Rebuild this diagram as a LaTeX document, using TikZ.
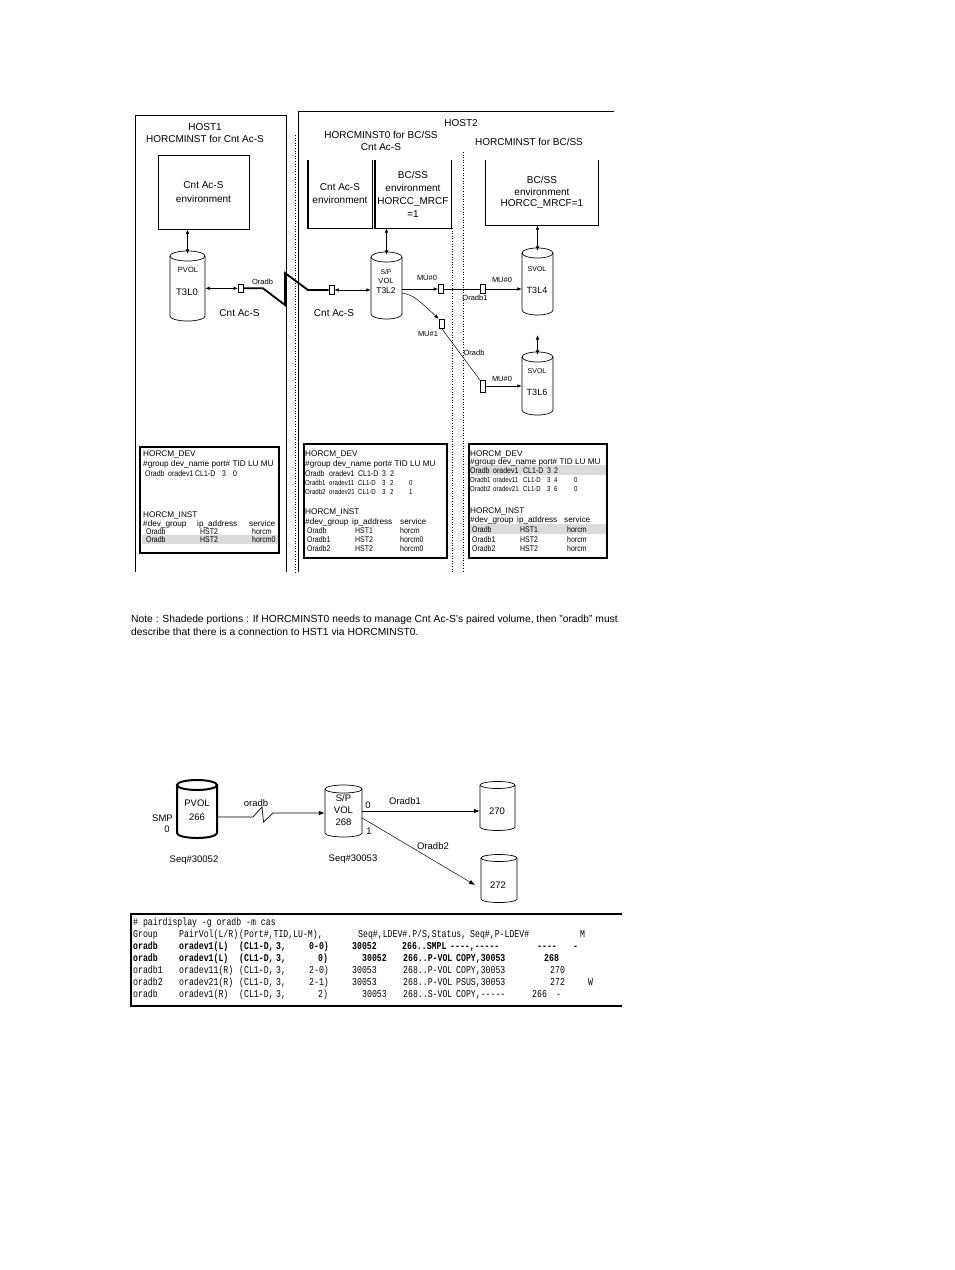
\documentclass[tikz,border=0pt]{standalone}
\usepackage{fontspec}
\setmainfont{Liberation Sans}
\newfontfamily\monof[FakeStretch=0.78]{Liberation Mono}
\newfontfamily\condf[FakeStretch=0.85]{Liberation Sans}
\usetikzlibrary{arrows.meta}
\newcommand\drum[7][]{%
  \draw[#1] (#3,#4) ellipse [x radius=#6pt, y radius=#7pt];
  \draw[#1] ({#3-#6},#4) -- ({#3-#6},#5) arc[start angle=180, end angle=360, x radius=#6pt, y radius=#7pt] -- ({#3+#6},#4);
  \node[minimum width={2*#6pt}, minimum height={#5-#4}] (#2) at (#3,{(#4+#5)/2}) {};
}
\newcommand\tcell[4][tab]{\node[#1] (#2) at (#3) {#4};}
\begin{document}
\begin{tikzpicture}[x=1pt,y=-1pt,
 every node/.style={inner sep=0pt},
 >={Latex[length=4.5pt,width=3.6pt]},
 big/.style={font=\fontsize{10}{12}\selectfont},
 sml/.style={font=\fontsize{7.5}{9}\selectfont},
 tabh/.style={anchor=base west,font=\fontsize{8.2}{9}\selectfont},
 tab/.style={anchor=base west,font=\condf\fontsize{8.2}{9}\selectfont},
 tabs/.style={anchor=base west,font=\condf\fontsize{7.2}{9}\selectfont},
 mono/.style={anchor=base west,font=\monof\fontsize{10.5}{12}\selectfont},
 monob/.style={anchor=base west,font=\monof\bfseries\fontsize{10.5}{12}\selectfont},
 low/.style={font=\fontsize{9.5}{11}\selectfont},
 note/.style={anchor=base west,font=\fontsize{10.3}{12}\selectfont},
 host/.style={line width=0.9pt},
 dotl/.style={line width=0.6pt, dotted},
 envl/.style={line width=0.8pt},
 cyl/.style={line width=0.7pt},
 conn/.style={line width=0.7pt},
 thk/.style={line width=1.8pt},
 tabbox/.style={line width=1.4pt},
 shade/.style={fill=black!14},
 sq/.style={draw, line width=0.6pt, fill=white, minimum width=5pt, minimum height=9pt},
 arrow2/.style={-{Latex[length=6pt,width=4.5pt]}, line width=0.7pt},
]
\fill[white] (0,0) rectangle (954,1270);
\useasboundingbox (0,0) rectangle (954,1270);

% ---------- host frames ----------
\draw[host] (135,572) -- (135,115) -- (286,115) -- (286,572);
\draw[host] (298,572) -- (298,111) -- (614,111);
\draw[dotl] (295,135) -- (295,572);
\draw[dotl] (452,228) -- (452,572);
\draw[dotl] (463,152) -- (463,572);

\node[big] (h1) at (205,127) {HOST1};
\node[big] (h1b) at (205,139) {HORCMINST for Cnt Ac-S};
\node[big] (h2) at (461,123) {HOST2};
\node[big] (h2a) at (381,135) {HORCMINST0 for BC/SS};
\node[big] (h2b) at (381,147) {Cnt Ac-S};
\node[big] (h2c) at (529,142) {HORCMINST for BC/SS};

% ---------- environment boxes ----------
\node[draw, envl, big, align=center, minimum width=91pt, minimum height=74pt, font=\fontsize{10}{14}\selectfont] (e1) at (203.5,192) {Cnt Ac-S\\environment};
\node[big, align=center, minimum width=64pt, minimum height=68pt, font=\fontsize{10}{13}\selectfont] (e2) at (340,194) {Cnt Ac-S\\environment};
\draw[envl] (e2.north west) -- (e2.south west) -- (e2.south east) -- (e2.north east);
\draw[line width=1.8pt] (e2.north west) -- (e2.south west);
\node[big, align=center, minimum width=76pt, minimum height=68pt, font=\fontsize{10}{13}\selectfont] (e3) at (413,194) {BC/SS\\environment\\HORCC\_MRCF\\=1};
\draw[envl] (e3.north west) -- (e3.south west) -- (e3.south east) -- (e3.north east);
\draw[line width=1.6pt] (e3.north west) -- (e3.south west);
\node[big, align=center, minimum width=112pt, minimum height=65pt, font=\fontsize{10}{11.8}\selectfont] (e4) at (542,192.5) {BC/SS\\environment\\HORCC\_MRCF=1};
\draw[envl] (e4.north west) -- (e4.south west) -- (e4.south east) -- (e4.north east);

% ---------- cylinders (top) ----------
\drum[cyl]{pvol}{187.5}{256}{316}{17.5}{5}
\drum[cyl]{spvol}{386.5}{257}{314}{15.5}{5}
\drum[cyl]{svola}{537.5}{253}{310}{15.5}{5}
\drum[cyl]{svolb}{537.5}{357}{410}{15.5}{5}

\node[sml] (pvolt) at (188,270) {PVOL};
\node[font=\fontsize{9.5}{11}\selectfont] (pvoln) at (187,292) {T3L0};
\node[font=\fontsize{6.8}{8}\selectfont] (spt1) at (386,272) {S/P};
\node[font=\fontsize{7.5}{9}\selectfont] (spt2) at (386,281) {VOL};
\node[font=\fontsize{8.5}{10}\selectfont] (spt3) at (386,291) {T3L2};
\node[font=\fontsize{7}{8}\selectfont] (sat1) at (537,269) {SVOL};
\node[font=\fontsize{9}{10}\selectfont] (sat2) at (537,290) {T3L4};
\node[font=\fontsize{7}{8}\selectfont] (sbt1) at (537,371) {SVOL};
\node[font=\fontsize{9}{10}\selectfont] (sbt2) at (537,392) {T3L6};

% vertical double arrows
\draw[<->, conn] (pvol.north |- e1.south) -- ([yshift=2pt]pvol.north);
\draw[<->, conn] (spvol.north |- e3.south) -- ([yshift=2pt]spvol.north);
\draw[<->, conn] (svola.north |- e4.south) -- ([yshift=2pt]svola.north);
\coordinate (svup) at (537.5,335);
\draw[<->, conn] (svup) -- ([yshift=2pt]svolb.north);

% ---------- small link boxes ----------
\node[sq, minimum height=8pt] (r1) at (240.8,288.3) {};
\node[sq] (r2) at (331.5,290) {};
\node[sq] (r3) at (441,289) {};
\node[sq] (r4) at (482.5,289) {};
\node[sq] (r5) at (441.5,323.5) {};
\node[sq, minimum height=12pt] (r6) at (482.5,386) {};

% connectors
\draw[<->, conn] (pvol.east |- r1.west) -- (r1.west);
\draw[thk] (r1.east) -- (263,288.3) -- (285,305) -- (285,273) -- (308,290) -- (r2.west);
\draw[<->, conn] (r2.east) -- (spvol.west |- r2.east);
\draw[->, conn] (spvol.east |- r3.west) -- (r3.west);
\draw[conn] (r3.east) -- (r4.west);
\draw[->, conn] (r4.east) -- (svola.west |- r4.east);
\draw[->, line width=0.5pt] (spvol.east |- 0,293) .. controls (414,296) .. (r5.north west);
\draw[line width=0.5pt] (r5.south) -- (r6.north west);
\draw[->, conn] (r6.east) -- (svolb.west |- r6.east);

\node[sml] (lo1) at (262.5,281.5) {Oradb};
\node[big] (lc1) at (239.5,313) {Cnt Ac-S};
\node[big] (lc2) at (334,313) {Cnt Ac-S};
\node[sml] (lm0) at (427,278) {MU\#0};
\node[sml] (lo2) at (475,298) {Oradb1};
\node[sml] (lm1) at (502,280) {MU\#0};
\node[sml] (lm2) at (428,334) {MU\#1};
\node[sml] (lo3) at (474,353) {Oradb};
\node[sml] (lm3) at (502,379) {MU\#0};

% ---------- left table ----------
\fill[shade] (142,535) rectangle (278,544);
\draw[tabbox] (140,447) rectangle (279,553);
\tcell[tabh]{la1}{143,456}{HORCM\_DEV}
\tcell[tabh]{la2}{143,466}{\#group dev\_name port\# TID LU MU}
\tcell{la3}{145,476}{Oradb}
\tcell{la4}{168,476}{oradev1}
\tcell{la5}{195,476}{CL1-D}
\tcell{la6}{222,476}{3}
\tcell{la7}{233,476}{0}
\tcell[tabh]{la8}{143,517}{HORCM\_INST}
\tcell[tabh]{la9}{143,526}{\#dev\_group}
\tcell[tabh]{la10}{197,526}{ip\_address}
\tcell[tabh]{la11}{249,526}{service}
\tcell{la12}{146,534}{Oradb}
\tcell{la13}{200,534}{HST2}
\tcell{la14}{252,534}{horcm}
\tcell{la15}{146,542}{Oradb}
\tcell{la16}{200,542}{HST2}
\tcell{la17}{252,542}{horcm0}

% ---------- middle table ----------
\draw[tabbox] (304,444) rectangle (447,558);
\tcell[tabh]{ma1}{305,456}{HORCM\_DEV}
\tcell[tabh]{ma2}{305,466}{\#group dev\_name port\# TID LU MU}
\tcell{ma3}{305,476}{Oradb}
\tcell{ma4}{329,476}{oradev1}
\tcell{ma5}{358,476}{CL1-D}
\tcell{ma6}{382,476}{3}
\tcell{ma7}{390,476}{2}
\tcell[tabs]{mb1}{305,485}{Oradb1}
\tcell[tabs]{mb2}{329,485}{oradev11}
\tcell[tabs]{mb3}{358,485}{CL1-D}
\tcell[tabs]{mb4}{382,485}{3}
\tcell[tabs]{mb5}{390,485}{2}
\tcell[tabs]{mb6}{409,485}{0}
\tcell[tabs]{mc1}{305,494}{Oradb2}
\tcell[tabs]{mc2}{329,494}{oradev21}
\tcell[tabs]{mc3}{358,494}{CL1-D}
\tcell[tabs]{mc4}{382,494}{3}
\tcell[tabs]{mc5}{390,494}{2}
\tcell[tabs]{mc6}{409,494}{1}
\tcell[tabh]{ma8}{305,514}{HORCM\_INST}
\tcell[tabh]{ma9}{305,524}{\#dev\_group}
\tcell[tabh]{ma10}{352,524}{ip\_address}
\tcell[tabh]{ma11}{400,524}{service}
\tcell{md1}{307,533}{Oradb}
\tcell{md2}{355,533}{HST1}
\tcell{md3}{400,533}{horcm}
\tcell{me1}{307,542}{Oradb1}
\tcell{me2}{355,542}{HST2}
\tcell{me3}{400,542}{horcm0}
\tcell{mf1}{307,551}{Oradb2}
\tcell{mf2}{355,551}{HST2}
\tcell{mf3}{400,551}{horcm0}

% ---------- right table ----------
\fill[shade] (470,465) rectangle (606,475);
\fill[shade] (470,524) rectangle (606,534);
\draw[tabbox] (469,444) rectangle (607,558);
\tcell[tabh]{ra1}{470,456}{HORCM\_DEV}
\tcell[tabh]{ra2}{470,464}{\#group dev\_name port\# TID LU MU}
\tcell{ra3}{470,473}{Oradb}
\tcell{ra4}{493,473}{oradev1}
\tcell{ra5}{523,473}{CL1-D}
\tcell{ra6}{547,473}{3}
\tcell{ra7}{554,473}{2}
\tcell[tabs]{rb1}{470,482}{Oradb1}
\tcell[tabs]{rb2}{493,482}{oradev11}
\tcell[tabs]{rb3}{523,482}{CL1-D}
\tcell[tabs]{rb4}{547,482}{3}
\tcell[tabs]{rb5}{554,482}{4}
\tcell[tabs]{rb6}{574,482}{0}
\tcell[tabs]{rc1}{470,491}{Oradb2}
\tcell[tabs]{rc2}{493,491}{oradev21}
\tcell[tabs]{rc3}{523,491}{CL1-D}
\tcell[tabs]{rc4}{547,491}{3}
\tcell[tabs]{rc5}{554,491}{6}
\tcell[tabs]{rc6}{574,491}{0}
\tcell[tabh]{ra8}{470,513}{HORCM\_INST}
\tcell[tabh]{ra9}{470,522}{\#dev\_group}
\tcell[tabh]{ra10}{517,522}{ip\_address}
\tcell[tabh]{ra11}{564,522}{service}
\tcell{rd1}{472,532}{Oradb}
\tcell{rd2}{520,532}{HST1}
\tcell{rd3}{567,532}{horcm}
\tcell{re1}{472,542}{Oradb1}
\tcell{re2}{520,542}{HST2}
\tcell{re3}{567,542}{horcm}
\tcell{rf1}{472,551}{Oradb2}
\tcell{rf2}{520,551}{HST2}
\tcell{rf3}{567,551}{horcm}

% ---------- note ----------
\node[note] (note1) at (131,622.5) {Note : Shadede portions : If HORCMINST0 needs to manage Cnt Ac-S's paired volume, then "oradb" must};
\node[note] (note2) at (131,635.5) {describe that there is a connection to HST1 via HORCMINST0.};

% ---------- lower diagram ----------
\node[low] (smp) at (162.5,818) {SMP};
\node[low] (smp0) at (167,829) {0};
\drum[line width=2pt]{pvolb}{197}{785}{833}{20}{5}
\node[low] (pvb1) at (197,803) {PVOL};
\node[low] (pvb2) at (197,817) {266};
\drum[line width=0.7pt]{spvolb}{343.5}{789}{833}{18.5}{4}
\node[low] (spb1) at (343.5,798) {S/P};
\node[low] (spb2) at (343.5,810) {VOL};
\node[low] (spb3) at (343.5,822) {268};
\drum[line width=0.7pt]{cyla}{497.5}{785}{827}{17.5}{3.5}
\node[low] (cya) at (497,811) {270};
\drum[line width=0.7pt]{cylb}{499}{858}{899}{18}{3.5}
\node[low] (cyb) at (498,885) {272};

\draw[arrow2] (pvolb.east |- 0,817) -- (253,817) -- (262,807) -- (263.5,822) -- (273,813) -- (spvolb.west |- 0,813);
\draw[arrow2] (spvolb.east |- 0,811) -- (cyla.west |- 0,811);
\coordinate (tip272) at (475,885);
\draw[arrow2, line width=0.5pt] (spvolb.east |- 0,818) -- (tip272);

\node[low] (lb1) at (256,803) {oradb};
\node[low] (lb2) at (368,805) {0};
\node[low] (lb3) at (369,831) {1};
\node[low] (lb4) at (405,801) {Oradb1};
\node[low] (lb5) at (433,846) {Oradb2};
\node[low] (sq1) at (194,860) {Seq\#30052};
\node[low] (sq2) at (353,859) {Seq\#30053};

% ---------- pairdisplay output ----------
\draw[line width=1.1pt] (622,914) -- (131,914) -- (131,1006) -- (622,1006);
\tcell[mono]{p0}{133,925}{\# pairdisplay -g oradb -m cas}
\tcell[mono]{p1a}{133,937}{Group}
\tcell[mono]{p1b}{179,937}{PairVol(L/R)}
\tcell[mono]{p1c}{239,937}{(Port\#,TID,LU-M),}
\tcell[mono]{p1d}{358,937}{Seq\#,LDEV\#.P/S,Status,}
\tcell[mono]{p1e}{470,937}{Seq\#,P-LDEV\#}
\tcell[mono]{p1f}{580,937}{M}
% row 2 (bold)
\tcell[monob]{p2a}{133,949}{oradb}
\tcell[monob]{p2b}{179,949}{oradev1(L)}
\tcell[monob]{p2c}{239,949}{(CL1-D,}
\tcell[monob]{p2d}{276,949}{3,}
\tcell[monob]{p2e}{309,949}{0-0)}
\tcell[monob]{p2f}{352,949}{30052}
\tcell[monob]{p2g}{402,949}{266..SMPL}
\tcell[monob]{p2h}{450,949}{----,-----}
\tcell[monob]{p2i}{537,949}{----}
\tcell[monob]{p2j}{573,949}{-}
% row 3 (bold)
\tcell[monob]{p3a}{133,961}{oradb}
\tcell[monob]{p3b}{179,961}{oradev1(L)}
\tcell[monob]{p3c}{239,961}{(CL1-D,}
\tcell[monob]{p3d}{276,961}{3,}
\tcell[monob]{p3e}{318,961}{0)}
\tcell[monob]{p3f}{362,961}{30052}
\tcell[monob]{p3g}{403,961}{266..P-VOL}
\tcell[monob]{p3h}{456,961}{COPY,30053}
\tcell[monob]{p3i}{544,961}{268}
% row 4
\tcell[mono]{p4a}{133,973}{oradb1}
\tcell[mono]{p4b}{179,973}{oradev11(R)}
\tcell[mono]{p4c}{239,973}{(CL1-D,}
\tcell[mono]{p4d}{276,973}{3,}
\tcell[mono]{p4e}{309,973}{2-0)}
\tcell[mono]{p4f}{352,973}{30053}
\tcell[mono]{p4g}{403,973}{268..P-VOL}
\tcell[mono]{p4h}{456,973}{COPY,30053}
\tcell[mono]{p4i}{550,973}{270}
% row 5
\tcell[mono]{p5a}{133,985}{oradb2}
\tcell[mono]{p5b}{179,985}{oradev21(R)}
\tcell[mono]{p5c}{239,985}{(CL1-D,}
\tcell[mono]{p5d}{276,985}{3,}
\tcell[mono]{p5e}{309,985}{2-1)}
\tcell[mono]{p5f}{352,985}{30053}
\tcell[mono]{p5g}{403,985}{268..P-VOL}
\tcell[mono]{p5h}{456,985}{PSUS,30053}
\tcell[mono]{p5i}{550,985}{272}
\tcell[mono]{p5j}{588,985}{W}
% row 6
\tcell[mono]{p6a}{133,997}{oradb}
\tcell[mono]{p6b}{179,997}{oradev1(R)}
\tcell[mono]{p6c}{239,997}{(CL1-D,}
\tcell[mono]{p6d}{276,997}{3,}
\tcell[mono]{p6e}{318,997}{2)}
\tcell[mono]{p6f}{362,997}{30053}
\tcell[mono]{p6g}{403,997}{268..S-VOL}
\tcell[mono]{p6h}{456,997}{COPY,-----}
\tcell[mono]{p6i}{532,997}{266}
\tcell[mono]{p6j}{556,997}{-}
\end{tikzpicture}
\end{document}
